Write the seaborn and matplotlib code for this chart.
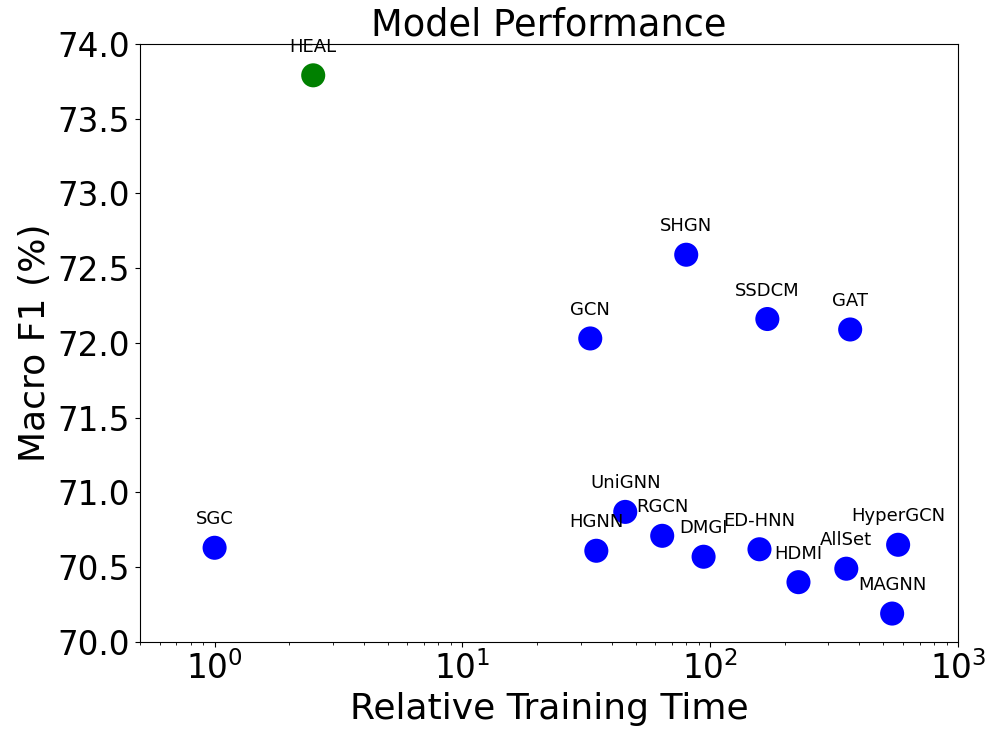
import matplotlib
matplotlib.use("Agg")
import matplotlib.pyplot as plt
import seaborn as sns
import pandas as pd

models = ["HEAL", "SGC", "GCN", "SHGN", "SSDCM", "GAT", "UniGNN", "HGNN", "RGCN",
          "DMGI", "ED-HNN", "HDMI", "AllSet", "HyperGCN", "MAGNN"]
train_time = [2.5, 1.0, 32.8, 80, 170, 367, 45.4, 34.7, 64, 94, 158, 227, 354, 573, 542]
macro_f1 = [73.79, 70.63, 72.03, 72.59, 72.16, 72.09, 70.87, 70.61, 70.71,
            70.57, 70.62, 70.40, 70.49, 70.65, 70.19]
group = ["ours"] + ["baseline"] * 14

df = pd.DataFrame({"model": models, "time": train_time, "f1": macro_f1, "group": group})

fig = plt.figure(figsize=(9.88, 7.32), dpi=100)
ax = fig.add_axes([0.1417, 0.123, 0.828, 0.817])
sns.scatterplot(data=df, x="time", y="f1", hue="group",
                palette={"ours": "green", "baseline": "blue"},
                s=300, linewidth=0, legend=False, ax=ax)
ax.set_xscale("log")
ax.set_xlim(0.5, 1000)
ax.set_ylim(70.0, 74.0)
for m, t, f in zip(models, train_time, macro_f1):
    ax.annotate(m, (t, f), xytext=(0, 14), textcoords="offset points",
                ha="center", va="bottom", fontsize=13)
ax.set_title("Model Performance", fontsize=26.5, pad=4)
ax.set_xlabel("Relative Training Time", fontsize=26)
ax.set_ylabel("Macro F1 (%)", fontsize=26)
ax.tick_params(axis="both", which="major", labelsize=23.5)
fig.savefig("out.png", dpi=100)
